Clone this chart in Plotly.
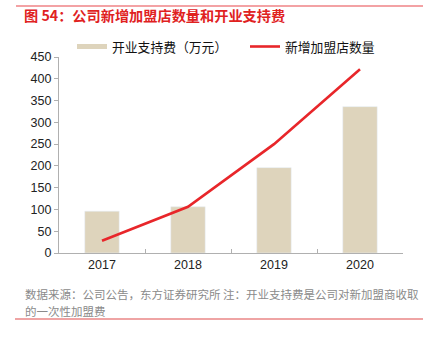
import plotly.graph_objects as go

years = ["2017", "2018", "2019", "2020"]
support_fee = [96, 106, 196, 336]
new_stores = [28, 106, 250, 422]
bar_name = "开业支持费（万元）"
line_name = "新增加盟店数量"
title_text = "图 54：公司新增加盟店数量和开业支持费"
note1 = "数据来源：公司公告，东方证券研究所 注：开业支持费是公司对新加盟商收取"
note2 = "的一次性加盟费"
y_ticks = [0, 50, 100, 150, 200, 250, 300, 350, 400, 450]

BAR_C = "#ded4bc"
RED = "#e8262a"
CJK = "Noto Sans CJK SC"
NUM = "Liberation Sans, Arial"

L, R, T, B = 59, 20, 57, 84
W, H = 423, 337
pw = W - L - R
ph = H - T - B

def px_x(x):
    return (x - L) / pw

def px_y(y):
    return (H - B - y) / ph

fig = go.Figure()
fig.add_trace(go.Bar(x=years, y=support_fee, name=bar_name, marker_color=BAR_C,
                     width=0.4, showlegend=False))
fig.add_trace(go.Scatter(x=years, y=new_stores, name=line_name, mode="lines",
                         line=dict(color=RED, width=2.6), showlegend=False))

shapes = [
    dict(type="line", xref="paper", yref="paper", x0=px_x(16), x1=px_x(423),
         y0=px_y(6), y1=px_y(6), line=dict(color="#e8474a", width=1.2)),
    dict(type="line", xref="paper", yref="paper", x0=px_x(15), x1=px_x(423),
         y0=px_y(319), y1=px_y(319), line=dict(color="#e04a4a", width=1.2)),
    dict(type="rect", xref="paper", yref="paper", x0=px_x(77), x1=px_x(107),
         y0=px_y(49), y1=px_y(44), fillcolor=BAR_C, line=dict(width=0)),
    dict(type="line", xref="paper", yref="paper", x0=px_x(250), x1=px_x(280),
         y0=px_y(46.5), y1=px_y(46.5), line=dict(color=RED, width=2.6)),
]

annotations = [
    dict(text=bar_name, xref="paper", yref="paper", x=px_x(110), y=px_y(46.5),
         xanchor="left", yanchor="middle", showarrow=False,
         font=dict(family=CJK, size=12.8, color="#111")),
    dict(text=line_name, xref="paper", yref="paper", x=px_x(283), y=px_y(46.5),
         xanchor="left", yanchor="middle", showarrow=False,
         font=dict(family=CJK, size=12.8, color="#111")),
    dict(text=note1, xref="paper", yref="paper", x=px_x(23), y=px_y(294),
         xanchor="left", yanchor="middle", showarrow=False,
         font=dict(family=CJK, size=11.5, color="#8a8a8a")),
    dict(text=note2, xref="paper", yref="paper", x=px_x(23), y=px_y(311),
         xanchor="left", yanchor="middle", showarrow=False,
         font=dict(family=CJK, size=11.5, color="#8a8a8a")),
]

fig.update_layout(
    width=W, height=H,
    margin=dict(l=L, r=R, t=T, b=B, pad=0),
    paper_bgcolor="white", plot_bgcolor="white",
    title=dict(text="<b>" + title_text + "</b>", xref="container", yref="container",
               x=24 / W, y=1 - 16.5 / H, xanchor="left", yanchor="middle",
               font=dict(family=CJK, size=14.2, color="#e0221f")),
    shapes=shapes, annotations=annotations,
    showlegend=False,
    xaxis=dict(type="category", range=[-0.5, 3.5], showgrid=False, showline=True,
               linecolor="#b0b0b0", linewidth=1.2, ticks="inside", tickson="boundaries",
               ticklen=4, tickcolor="#b0b0b0",
               tickfont=dict(family=NUM, size=12.5, color="#222")),
    yaxis=dict(range=[0, 450], tickvals=y_ticks, showgrid=False, showline=True,
               linecolor="#b0b0b0", linewidth=1.2, ticks="outside", ticklen=4,
               tickcolor="#b0b0b0", zeroline=False,
               tickfont=dict(family=NUM, size=12.5, color="#222")),
)

fig.write_html("out.html")
